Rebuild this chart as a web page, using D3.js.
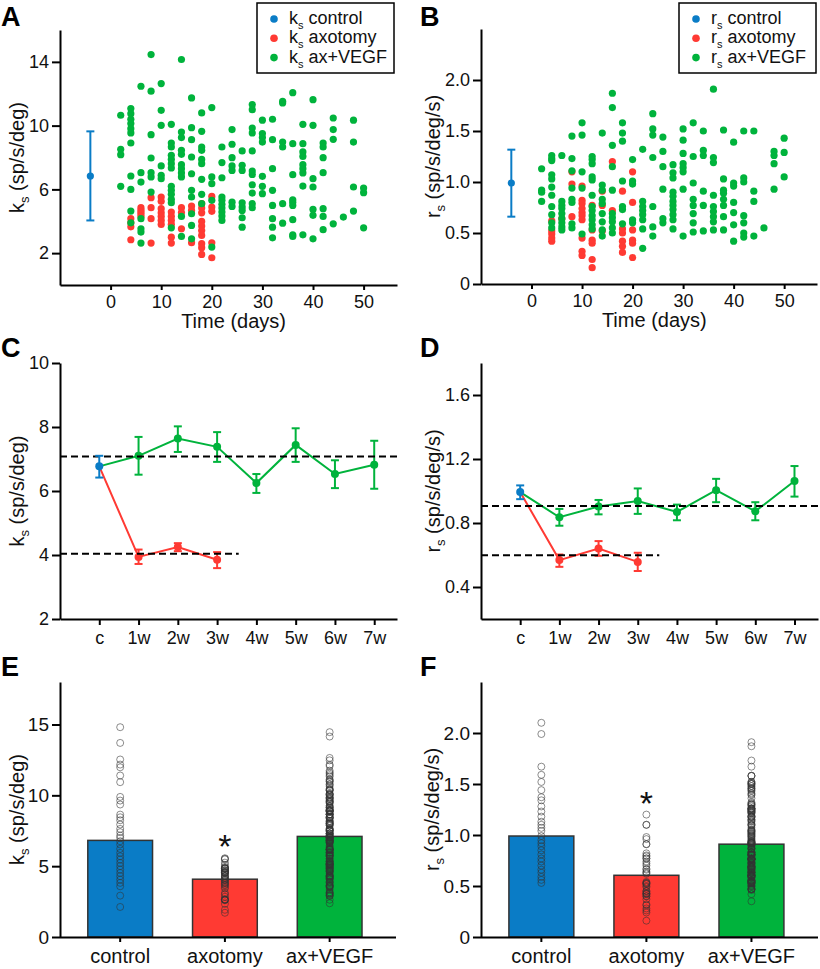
<!DOCTYPE html>
<html><head><meta charset="utf-8">
<script src="https://cdn.jsdelivr.net/npm/d3@7"></script>
<style>body{margin:0;background:#fff}</style>
</head><body><svg id="c" width="820" height="969"></svg>
<script>
// ---------------- DATA ----------------
const categories = ["control", "axotomy", "ax+VEGF"];
const weeks = ["c", "1w", "2w", "3w", "4w", "5w", "6w", "7w"];
const timeTicks = [0, 10, 20, 30, 40, 50];
const ksTicksA = [2, 6, 10, 14];
const rsTicksB = [0, 0.5, 1.0, 1.5, 2.0];
const ksTicksC = [2, 4, 6, 8, 10];
const rsTicksD = [0.4, 0.8, 1.2, 1.6];
const ksTicksE = [0, 5, 10, 15];
const rsTicksF = [0, 0.5, 1.0, 1.5, 2.0];

// Panel A: k_s per cell, grouped by day [day, [values]]
const ksAxotomyByDay = [
  [4, [4.16, 3.9, 3.65, 2.84]],
  [6, [4.85, 4.7, 4.58, 4.45, 4.3]],
  [8, [5.48, 4.85, 4.16, 2.63]],
  [10, [5.52, 5.25, 4.79, 4.53, 4.3, 4.05, 3.8]],
  [12, [4.58, 4.3, 4.05, 3.8, 3.0, 2.63]],
  [14, [4.85, 4.55, 3.53]],
  [16, [4.95, 4.68, 2.65]],
  [18, [5.1, 4.83, 4.53, 3.99, 3.7, 3.42, 3.11, 2.59, 2.34, 1.92]],
  [20, [5.56, 4.89, 4.62, 2.65, 1.71]]
];
const ksVegfByDay = [
  [2, [10.65, 8.51, 8.18, 6.19]],
  [4, [11.07, 10.75, 10.4, 10.13, 9.81, 9.54, 8.91, 6.84, 6.0, 4.64, 3.9]],
  [6, [12.47, 7.05, 6.46, 4.16, 3.53, 3.32, 2.63]],
  [8, [14.46, 12.16, 9.43, 7.97, 7.05, 6.78, 5.83]],
  [10, [12.64, 10.96, 10.02, 7.47, 6.88, 6.67]],
  [12, [10.08, 8.91, 8.66, 8.14, 7.88, 7.61, 7.34, 6.19, 5.94, 5.69, 5.37, 5.16, 3.59]],
  [14, [14.15, 9.6, 9.25, 8.45, 8.2, 7.55, 7.3, 7.03, 6.78, 4.3, 3.05]],
  [16, [11.74, 9.87, 9.12, 8.03, 6.98, 5.94, 5.52, 4.47, 3.74, 2.9]],
  [18, [10.8, 9.64, 8.66, 8.45, 7.88, 7.61, 6.63, 5.69, 5.1]],
  [20, [11.13, 6.78, 6.36, 5.31, 2.38]],
  [22, [8.66, 7.68, 6.73, 5.52, 5.31, 5.06, 4.83, 4.58, 4.33, 4.05]],
  [24, [9.75, 8.83, 7.99, 7.47, 7.19, 5.2, 4.93]],
  [26, [8.41, 7.51, 7.19, 5.16, 4.89, 4.68, 4.22, 3.63]],
  [28, [11.32, 11.0, 9.85, 9.54, 8.41, 7.15, 6.94, 6.29, 5.77, 5.1, 4.85]],
  [30, [10.34, 9.5, 9.25, 8.97, 6.82, 6.19, 5.73]],
  [32, [10.4, 9.12, 7.3, 5.94, 4.99, 4.16, 3.63, 2.96]],
  [34, [11.53, 11.42, 8.97, 8.66, 5.1, 3.88]],
  [36, [12.07, 8.87, 6.92, 5.35, 5.2, 4.99, 4.1, 3.15, 3.05]],
  [38, [10.08, 8.87, 8.35, 8.07, 7.55, 7.3, 7.03, 6.21, 3.15]],
  [40, [11.63, 10.02, 6.67, 6.15, 4.74, 4.37, 2.9]],
  [42, [8.91, 8.66, 7.99, 7.05, 4.79, 4.3, 3.47]],
  [44, [10.48, 9.75, 9.14, 3.84]],
  [46, [4.26]],
  [48, [10.34, 8.97, 6.15, 4.64]],
  [50, [6.08, 5.79, 3.59]]
];
const ksControlSummary = {day: -4, mean: 6.84, lo: 4.05, hi: 9.64};

// Panel B: r_s per cell
const rsAxotomyByDay = [
  [4, [0.62, 0.52, 0.49, 0.45, 0.42]],
  [6, [0.64]],
  [8, [1.10, 0.98, 0.66]],
  [10, [0.96, 0.82, 0.79, 0.74, 0.70, 0.67, 0.63, 0.45, 0.32, 0.28]],
  [12, [0.77, 0.53, 0.43, 0.40, 0.24, 0.16]],
  [14, [0.91, 0.77, 0.52]],
  [16, [1.20, 0.72]],
  [18, [0.91, 0.54, 0.50, 0.42, 0.37, 0.31]],
  [20, [1.10, 0.80, 0.53, 0.43, 0.40, 0.26]]
];
const rsVegfByDay = [
  [2, [1.13, 0.92, 0.90, 0.81]],
  [4, [1.26, 1.23, 1.21, 1.07, 1.03, 0.95, 0.87, 0.76, 0.68, 0.60, 0.55]],
  [6, [1.26, 0.81, 0.77, 0.74, 0.69, 0.64, 0.60, 0.56, 0.53]],
  [8, [1.45, 1.23, 1.11, 0.94, 0.83, 0.80, 0.59, 0.55]],
  [10, [1.58, 1.46, 1.10, 0.94, 0.49]],
  [12, [1.25, 1.22, 1.18, 1.05, 1.02, 0.87, 0.76, 0.72, 0.67, 0.63, 0.58, 0.54]],
  [14, [1.48, 0.97, 0.92, 0.83, 0.79, 0.69, 0.61, 0.53, 0.47]],
  [16, [1.87, 1.73, 1.36, 1.15, 0.92, 0.69, 0.65, 0.61, 0.55, 0.50]],
  [18, [1.58, 1.48, 1.40, 1.01, 0.76, 0.73, 0.59]],
  [20, [1.22, 1.01, 0.98, 0.63, 0.60]],
  [22, [1.32, 0.81, 0.76, 0.72, 0.68, 0.63, 0.54, 0.35]],
  [24, [1.67, 1.52, 1.46, 1.24, 0.76, 0.56, 0.47]],
  [26, [1.44, 1.30, 1.15, 0.93, 0.64, 0.60]],
  [28, [1.17, 1.09, 1.04, 0.90, 0.86, 0.81, 0.77, 0.73, 0.68, 0.63, 0.54]],
  [30, [1.52, 1.41, 1.28, 1.18, 1.14, 1.10, 0.93, 0.47]],
  [32, [1.58, 1.25, 0.99, 0.83, 0.77, 0.69, 0.60, 0.51]],
  [34, [1.50, 1.31, 1.26, 0.91, 0.77, 0.52]],
  [36, [1.91, 1.24, 1.19, 0.87, 0.76, 0.71, 0.66, 0.61, 0.53]],
  [38, [1.51, 1.03, 0.92, 0.89, 0.83, 0.77, 0.66, 0.53]],
  [40, [1.39, 0.99, 0.96, 0.80, 0.70, 0.58, 0.42]],
  [42, [1.50, 1.04, 1.00, 0.67, 0.60, 0.50, 0.46]],
  [44, [1.50, 0.91, 0.81, 0.47]],
  [46, [0.55]],
  [48, [1.30, 1.26, 1.18, 0.93]],
  [50, [1.43, 1.29, 1.05]]
];
const rsControlSummary = {day: -4, mean: 0.99, lo: 0.66, hi: 1.317};

// Panel C: weekly k_s (index 0 = control)
const ksVegfWeekly   = [6.77, 7.10, 7.64, 7.38, 6.25, 7.44, 6.53, 6.82];
const ksVegfWeeklyLo = [null, 6.51, 7.22, 6.91, 5.94, 6.91, 6.09, 6.07];
const ksVegfWeeklyHi = [null, 7.69, 8.02, 7.84, 6.53, 7.96, 6.96, 7.57];
const ksAxoWeekly    = [6.77, 3.94, 4.25, 3.85];
const ksAxoWeeklyLo  = [null, 3.72, 4.12, 3.59];
const ksAxoWeeklyHi  = [null, 4.17, 4.37, 4.09];
const ksControlWeekly = {mean: 6.77, lo: 6.42, hi: 7.10};
const ksMeanLines = [{v: 7.08, end: 7.6}, {v: 4.04, end: 3.55}];

// Panel D: weekly r_s
const rsVegfWeekly   = [0.993, 0.836, 0.903, 0.938, 0.869, 1.005, 0.873, 1.062];
const rsVegfWeeklyLo = [null, 0.783, 0.854, 0.857, 0.817, 0.930, 0.817, 0.965];
const rsVegfWeeklyHi = [null, 0.888, 0.944, 1.016, 0.915, 1.076, 0.930, 1.156];
const rsAxoWeekly    = [0.993, 0.568, 0.641, 0.557];
const rsAxoWeeklyLo  = [null, 0.526, 0.595, 0.500];
const rsAxoWeeklyHi  = [null, 0.603, 0.687, 0.614];
const rsControlWeekly = {mean: 0.993, lo: 0.949, hi: 1.035};
const rsMeanLines = [{v: 0.907, end: 7.6}, {v: 0.599, end: 3.55}];

// Panels E/F: group means and control cells
const ksMeans = [6.82, 4.08, 7.10];
const rsMeans = [0.99, 0.605, 0.91];
const ksControlCells = [14.81, 13.70, 12.53, 12.17, 11.98, 11.4, 10.93, 9.89, 9.63, 9.35, 8.64, 8.45, 8.24, 7.94, 7.63, 7.4, 7.16, 7.0, 6.76, 6.53, 6.22, 5.94, 5.7, 5.47, 5.23, 5.0, 4.76, 4.52, 4.29, 4.05, 3.82, 3.58, 2.92, 2.12];
const rsControlCells = [2.10, 1.99, 1.67, 1.59, 1.52, 1.44, 1.37, 1.34, 1.28, 1.23, 1.18, 1.13, 1.10, 1.07, 1.04, 0.99, 0.95, 0.92, 0.89, 0.85, 0.81, 0.77, 0.74, 0.70, 0.66, 0.63, 0.59, 0.56, 0.53];

// ---------------- DRAWING ----------------
const FONT = "'Liberation Sans', Arial, Helvetica, sans-serif";
const COL = {control: "#0a7cc6", axotomy: "#ff3a33", vegf: "#00b33c"};
const svg = d3.select("#c");
svg.append("rect").attr("width", 820).attr("height", 969).attr("fill", "#fff");

const flat = arr => arr.flatMap(([d, vs]) => vs.map(v => [d, v]));
const ksAxo = flat(ksAxotomyByDay), ksVeg = flat(ksVegfByDay);
const rsAxo = flat(rsAxotomyByDay), rsVeg = flat(rsVegfByDay);

function styleAxis(g, fs) {
  g.selectAll("path.domain").attr("stroke", "#000").attr("stroke-width", 2);
  g.selectAll(".tick line").attr("stroke", "#000").attr("stroke-width", 2);
  g.selectAll("text").attr("font-size", fs).attr("font-family", FONT).attr("fill", "#111");
}
const fmtR = d => d === 0 ? "0" : d.toFixed(1);

function yAxis(x0, y, ticks, fmt, fs) {
  const g = svg.append("g").attr("transform", `translate(${x0},0)`)
    .call(d3.axisLeft(y).tickValues(ticks).tickFormat(fmt).tickSize(8).tickPadding(3).tickSizeOuter(0));
  styleAxis(g, fs);
}
function xAxis(yb, x, ticks, fmt, fs, ts, tp) {
  const g = svg.append("g").attr("transform", `translate(0,${yb})`)
    .call(d3.axisBottom(x).tickValues(ticks).tickFormat(fmt).tickSize(ts).tickPadding(tp).tickSizeOuter(0));
  styleAxis(g, fs);
  return g;
}
function yTitle(x, yc, sym, unit) {
  const t = svg.append("text").attr("transform", `translate(${x},${yc}) rotate(-90)`)
    .attr("text-anchor", "middle").attr("font-size", 20).attr("font-family", FONT).attr("fill", "#111");
  t.append("tspan").text(sym);
  t.append("tspan").attr("font-size", 13).attr("dy", 5).text("s");
  t.append("tspan").attr("dy", -5).text(" " + unit);
}
function panelLetter(x, y, L) {
  svg.append("text").attr("x", x).attr("y", y).attr("font-size", 27).attr("font-weight", "bold")
    .attr("font-family", FONT).attr("fill", "#000").text(L);
}
function legend(x, y, sym) {
  svg.append("rect").attr("x", x).attr("y", y).attr("width", 137).attr("height", 70)
    .attr("fill", "#fff").attr("stroke", "#000").attr("stroke-width", 1.5);
  const items = [["control", COL.control], ["axotomy", COL.axotomy], ["ax+VEGF", COL.vegf]];
  items.forEach(([lab, c], i) => {
    const by = y + 21 + i * 19.3;
    svg.append("circle").attr("cx", x + 17).attr("cy", by - 5).attr("r", 3.8).attr("fill", c);
    const t = svg.append("text").attr("x", x + 32).attr("y", by).attr("font-size", 18)
      .attr("font-family", FONT).attr("fill", "#111");
    t.append("tspan").text(sym);
    t.append("tspan").attr("font-size", 11).attr("dy", 5).text("s");
    t.append("tspan").attr("dy", -5).text(" " + lab);
  });
}

function scatterPanel(o) {
  const x = d3.scaleLinear().domain([-10, o.xmax]).range([o.x0, o.x1]);
  const y = d3.scaleLinear().domain([0, o.ymax]).range([o.yb, o.yt]);
  const c = o.ctrl;
  svg.append("line").attr("x1", x(c.day)).attr("x2", x(c.day)).attr("y1", y(c.lo)).attr("y2", y(c.hi))
    .attr("stroke", COL.control).attr("stroke-width", 2);
  [c.lo, c.hi].forEach(v => svg.append("line").attr("x1", x(c.day) - 4).attr("x2", x(c.day) + 4)
    .attr("y1", y(v)).attr("y2", y(v)).attr("stroke", COL.control).attr("stroke-width", 2));
  svg.append("circle").attr("cx", x(c.day)).attr("cy", y(c.mean)).attr("r", 3.6).attr("fill", COL.control);
  svg.append("g").selectAll("circle").data(o.axo).join("circle")
    .attr("cx", d => x(d[0])).attr("cy", d => y(d[1])).attr("r", 3.6).attr("fill", COL.axotomy);
  svg.append("g").selectAll("circle").data(o.veg).join("circle")
    .attr("cx", d => x(d[0])).attr("cy", d => y(d[1])).attr("r", 3.6).attr("fill", COL.vegf);
  yAxis(o.x0, y, o.yticks, o.yfmt, 18);
  xAxis(o.yb, x, timeTicks, d3.format("d"), 18, 5, 5);
  svg.append("text").attr("x", x(24.3)).attr("y", o.yb + 43).attr("text-anchor", "middle")
    .attr("font-size", 20).attr("font-family", FONT).attr("fill", "#111").text("Time (days)");
  yTitle(o.tx, (o.yt + o.yb) / 2, o.sym, o.unit);
  legend(o.lx, 3, o.sym);
}

scatterPanel({x0: 60, x1: 397, yt: 30, yb: 285, xmax: 56.6, ymax: 16, ctrl: ksControlSummary,
  axo: ksAxo, veg: ksVeg, yticks: ksTicksA, yfmt: d3.format("d"), tx: 24, sym: "k", unit: "(sp/s/deg)", lx: 257});
scatterPanel({x0: 481, x1: 817, yt: 29, yb: 284, xmax: 56.5, ymax: 2.5, ctrl: rsControlSummary,
  axo: rsAxo, veg: rsVeg, yticks: rsTicksB, yfmt: fmtR, tx: 440, sym: "r", unit: "(sp/s/deg/s)", lx: 679});

function weeklyPanel(o) {
  const x = d3.scaleLinear().domain([-1, o.xmax]).range([o.x0, o.x1]);
  const y = d3.scaleLinear().domain(o.ydom).range([o.yb, o.yt]);
  const line = d3.line().x((d, i) => x(i)).y(d => y(d));
  function series(vals, lo, hi, col) {
    svg.append("path").attr("d", line(vals)).attr("fill", "none").attr("stroke", col).attr("stroke-width", 2);
    vals.forEach((v, i) => {
      if (lo[i] == null) return;
      svg.append("line").attr("x1", x(i)).attr("x2", x(i)).attr("y1", y(lo[i])).attr("y2", y(hi[i]))
        .attr("stroke", col).attr("stroke-width", 2);
      [lo[i], hi[i]].forEach(e => svg.append("line").attr("x1", x(i) - 4).attr("x2", x(i) + 4)
        .attr("y1", y(e)).attr("y2", y(e)).attr("stroke", col).attr("stroke-width", 2));
      svg.append("circle").attr("cx", x(i)).attr("cy", y(v)).attr("r", 4).attr("fill", col);
    });
  }
  series(o.veg, o.vegLo, o.vegHi, COL.vegf);
  series(o.axo, o.axoLo, o.axoHi, COL.axotomy);
  o.means.forEach(m => svg.append("line").attr("x1", o.x0).attr("x2", x(m.end)).attr("y1", y(m.v)).attr("y2", y(m.v))
    .attr("stroke", "#000").attr("stroke-width", 2).attr("stroke-dasharray", "7,4"));
  const c = o.ctrl;
  svg.append("line").attr("x1", x(0)).attr("x2", x(0)).attr("y1", y(c.lo)).attr("y2", y(c.hi))
    .attr("stroke", COL.control).attr("stroke-width", 2);
  [c.lo, c.hi].forEach(e => svg.append("line").attr("x1", x(0) - 4).attr("x2", x(0) + 4)
    .attr("y1", y(e)).attr("y2", y(e)).attr("stroke", COL.control).attr("stroke-width", 2));
  svg.append("circle").attr("cx", x(0)).attr("cy", y(c.mean)).attr("r", 4).attr("fill", COL.control);
  yAxis(o.x0, y, o.yticks, o.yfmt, 18);
  xAxis(o.yb, x, d3.range(weeks.length), i => weeks[i], 18, 6, 6);
  yTitle(o.tx, (o.yt + o.yb) / 2, o.sym, o.unit);
}

weeklyPanel({x0: 60, x1: 397, yt: 363, yb: 619, xmax: 7.58, ydom: [2, 10],
  veg: ksVegfWeekly, vegLo: ksVegfWeeklyLo, vegHi: ksVegfWeeklyHi,
  axo: ksAxoWeekly, axoLo: ksAxoWeeklyLo, axoHi: ksAxoWeeklyHi, ctrl: ksControlWeekly, means: ksMeanLines,
  yticks: ksTicksC, yfmt: d3.format("d"), tx: 24, sym: "k", unit: "(sp/s/deg)"});
weeklyPanel({x0: 481, x1: 818, yt: 363, yb: 619, xmax: 7.6, ydom: [0.2, 1.8],
  veg: rsVegfWeekly, vegLo: rsVegfWeeklyLo, vegHi: rsVegfWeeklyHi,
  axo: rsAxoWeekly, axoLo: rsAxoWeeklyLo, axoHi: rsAxoWeeklyHi, ctrl: rsControlWeekly, means: rsMeanLines,
  yticks: rsTicksD, yfmt: d => d.toFixed(1), tx: 440, sym: "r", unit: "(sp/s/deg/s)"});

function barPanel(o) {
  const x = d3.scaleBand().domain(categories).range([o.x0, o.x1]).paddingInner(0.382).paddingOuter(0.295).align(0.45);
  const y = d3.scaleLinear().domain([0, o.ymax]).range([o.yb, o.yt]);
  const cols = [COL.control, COL.axotomy, COL.vegf];
  svg.append("g").selectAll("rect").data(o.means).join("rect")
    .attr("x", (d, i) => x(categories[i])).attr("width", x.bandwidth())
    .attr("y", d => y(d)).attr("height", d => o.yb - y(d))
    .attr("fill", (d, i) => cols[i]).attr("stroke", "#333").attr("stroke-width", 1.5);
  o.cells.forEach((cells, i) => {
    svg.append("g").selectAll("circle").data(cells).join("circle")
      .attr("cx", x(categories[i]) + x.bandwidth() / 2).attr("cy", d => y(d)).attr("r", 3.5)
      .attr("fill", "none").attr("stroke", "#333").attr("stroke-opacity", 0.7).attr("stroke-width", 0.8);
  });
  const maxAxo = d3.max(o.cells[1]);
  svg.append("text").attr("x", x(categories[1]) + x.bandwidth() / 2).attr("y", y(maxAxo))
    .attr("text-anchor", "middle").attr("font-size", 34).attr("font-family", FONT).attr("fill", "#111").text("*");
  yAxis(o.x0, y, o.yticks, o.yfmt, 19);
  const g = xAxis(o.yb, x, categories, d => d, 20, 5, 7);
  g.select("path.domain").attr("d", `M${o.x0},0.5H${o.x1}`);
  yTitle(o.tx, (o.yt + o.yb) / 2, o.sym, o.unit);
}

barPanel({x0: 60, x1: 396, yt: 682, yb: 937, ymax: 18, means: ksMeans,
  cells: [ksControlCells, ksAxo.map(d => d[1]), ksVeg.map(d => d[1])],
  yticks: ksTicksE, yfmt: d3.format("d"), tx: 24, sym: "k", unit: "(sp/s/deg)"});
barPanel({x0: 481, x1: 818, yt: 682, yb: 937, ymax: 2.5, means: rsMeans,
  cells: [rsControlCells, rsAxo.map(d => d[1]), rsVeg.map(d => d[1])],
  yticks: rsTicksF, yfmt: fmtR, tx: 439, sym: "r", unit: "(sp/s/deg/s)"});

panelLetter(1, 26, "A");
panelLetter(420, 26, "B");
panelLetter(1, 357, "C");
panelLetter(420, 357, "D");
panelLetter(1, 676, "E");
panelLetter(420, 676, "F");
</script>
</body></html>
